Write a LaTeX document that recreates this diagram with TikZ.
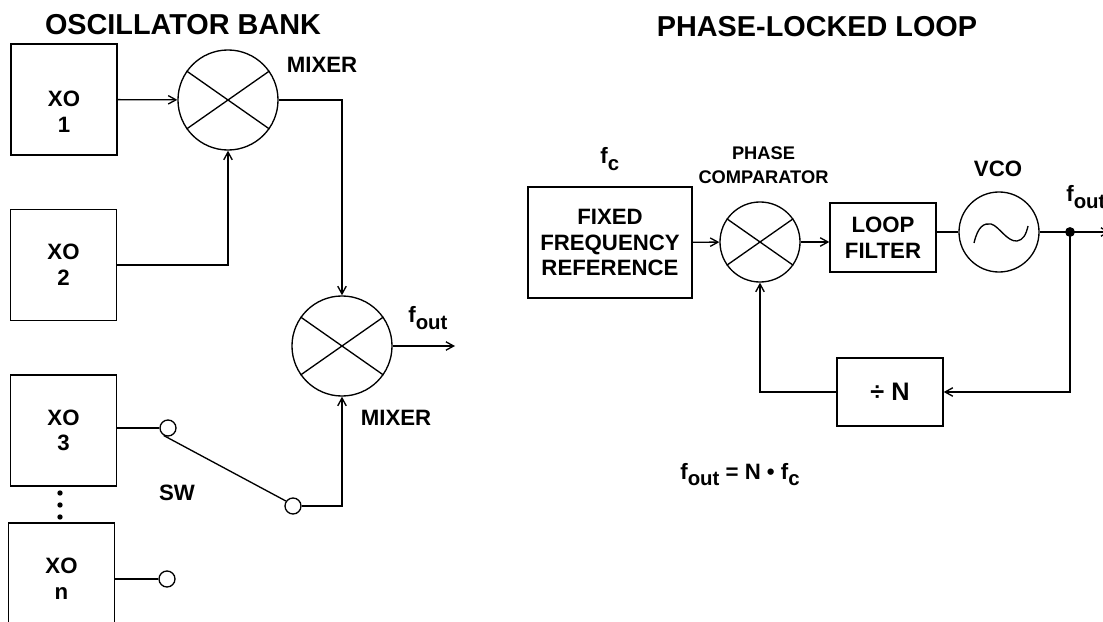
\documentclass[tikz,border=0pt]{standalone}
\usepackage{fontspec}
\setmainfont{Liberation Sans}
\usetikzlibrary{arrows.meta}

\newcommand{\fsub}[1]{f\raisebox{-4.3pt}{\fontsize{14.5}{14.5}\selectfont #1}}

\tikzset{
  blk/.style={draw, inner sep=0pt, align=center},
  xobox/.style={blk, txt, minimum width=2.65cm, minimum height=2.775cm},
  mix/.style={draw, circle, inner sep=0pt, minimum size=#1},
  contact/.style={draw, circle, fill=white, inner sep=0pt, minimum size=0.4cm},
  big/.style={font=\fontsize{20.5}{24}\selectfont\bfseries},
  txt/.style={font=\fontsize{15.8}{18.3}\selectfont\bfseries},
  sml/.style={font=\fontsize{13}{17}\selectfont\bfseries, align=center},
  arr/.style={-{Straight Barb[length=5.5pt,width=6pt]}}
}

\begin{document}
\begin{tikzpicture}[x=0.025cm,y=-0.025cm,line width=0.95pt]
\clip (0,0) rectangle (1103,622);

% oscillator bank
\node[big] (ttlosc) at (183,25) {OSCILLATOR BANK};
\node[xobox] (xo1) at (64,99.5) {};
\node[txt, align=center] (xo1t) at (64,112) {XO\\1};
\node[xobox] (xo2) at (63.5,265) {XO\\2};
\node[xobox] (xo3) at (63.5,430.5) {XO\\3};
\node[xobox] (xon) at (61.5,578.5) {XO\\n};
\foreach \y in {493,505,517}
  \fill (60,\y) circle (1.9pt);
\node[mix=2.5cm] (m1) at (228,100) {};
\node[txt] (m1lbl) at (322,65) {MIXER};
\node[mix=2.5cm] (m2) at (342,346) {};
\node[txt] (m2lbl) at (396,418) {MIXER};
\node[txt, anchor=base west] (fout1) at (403,323) {\fsub{out}};
\coordinate (mout) at (455,346);
\node[contact] (c3) at (168,428) {};
\node[contact] (csw) at (293,506) {};
\node[contact] (cn) at (167,579) {};
\node[txt] (swlbl) at (177,493) {SW};

\draw[arr] (xo1) -- (m1);
\draw[arr] (xo2.east) -| (m1.south);
\draw[arr] (m1.east) -| (m2.north);
\draw (xo3.east |- c3) -- (c3);
\draw (xon.east |- cn) -- (cn);
\draw (c3.240) -- (csw.145);
\draw[arr] (csw.east) -| (m2.south);
\draw[arr] (m2.east) -- (mout);

% phase-locked loop
\node[big] (ttlpll) at (817,27) {PHASE-LOCKED LOOP};
\node[blk, txt, minimum width=4.1cm, minimum height=2.775cm] (ref) at (610,242.5) {FIXED\\FREQUENCY\\REFERENCE};
\node[txt, anchor=base west] (fc) at (595,164) {\fsub{c}};
\node[mix=2cm] (cmp) at (760,242) {};
\node[sml] (cmplbl) at (763.5,165) {PHASE\\COMPARATOR};
\node[blk, txt, minimum width=2.65cm, minimum height=1.725cm] (lf) at (883,237.5) {LOOP\\FILTER};
\node[mix=2cm] (vco) at (999,232) {};
\node[txt] (vcolbl) at (998,169) {VCO};
\coordinate (tap) at (1070,232);
\coordinate (pllout) at (1110,232);
\node[txt, anchor=base west] (fout2) at (1061,202) {\fsub{out}};
\node[blk, minimum width=2.65cm, minimum height=1.7cm, font=\fontsize{18}{20}\selectfont\bfseries] (div) at (890,392) {÷ N};
\node[txt, anchor=base west] (eqn) at (675,479) {\fsub{out} = N \textbullet{} \fsub{c}};

\foreach \m in {m1,m2,cmp} {
  \draw (\m.145) -- (\m.-35);
  \draw (\m.35) -- (\m.-145);
}
\begin{scope}[shift={(vco.center)}]
\draw (-25,11) .. controls (-21,-6) and (-15,-9) .. (-8,-8)
  .. controls (0,-6) and (8,10) .. (18,9)
  .. controls (24,8) and (27,3) .. (29,-6);
\end{scope}

\draw[arr] (ref) -- (cmp);
\draw[arr] (cmp.east) -- (cmp.east -| lf.west);
\draw (vco.west -| lf.east) -- (vco.west);
\draw (vco.east) -- (tap);
\draw[arr] (tap) -- (pllout);
\fill (tap) circle (3.5pt);
\draw[arr] (tap) |- (div.east);
\draw[arr] (div.west) -| (cmp.south);
\end{tikzpicture}
\end{document}
